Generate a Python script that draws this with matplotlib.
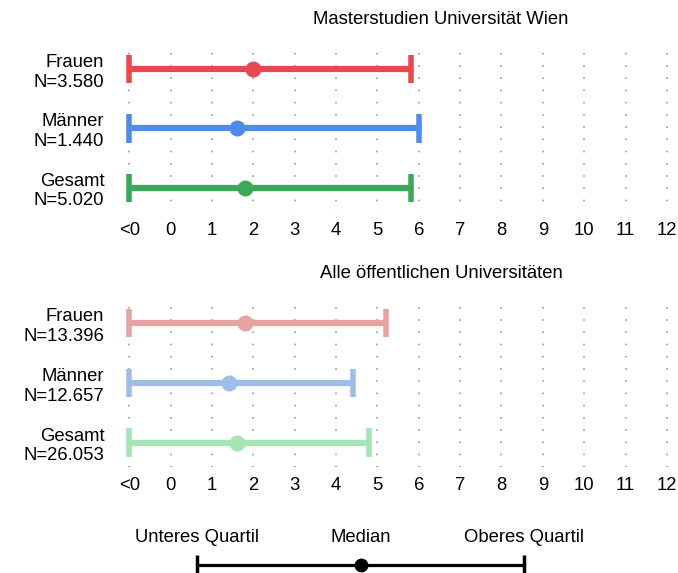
import matplotlib.pyplot as plt

# Daten: Quartile und Median (Studiendauer), "<0" = -1
gruppen = ["Frauen", "Männer", "Gesamt"]
n_wien = ["3.580", "1.440", "5.020"]
n_alle = ["13.396", "12.657", "26.053"]

q1_wien = [-1, -1, -1]
med_wien = [2.0, 1.6, 1.8]
q3_wien = [5.8, 6.0, 5.8]

q1_alle = [-1, -1, -1]
med_alle = [1.8, 1.4, 1.6]
q3_alle = [5.2, 4.4, 4.8]

ticks = list(range(-1, 13))
tick_labels = ["<0"] + [str(t) for t in range(0, 13)]

farben_wien = ["#e8494f", "#4f8ce9", "#3aaa5a"]
farben_alle = ["#e5a3a3", "#9fbde5", "#a4e4b5"]

plt.rcParams["font.family"] = "Liberation Sans"
fs = 13.3

W, H = 678, 573
fig = plt.figure(figsize=(W / 100, H / 100), dpi=100)


def panel(top_px, bottom_px, q1, med, q3, n, farben, titel):
    ax = fig.add_axes([121 / W, (H - bottom_px) / H, 548 / W, (bottom_px - top_px) / H])
    ax.set_xlim(-1.2, 12.05)
    ax.set_ylim(2.44, -0.32)
    ax.vlines(ticks, -0.27, 2.4, colors="#8c8c8c", linestyles=(0, (1, 7)), linewidth=1.1, zorder=1)
    for i in range(len(gruppen)):
        ax.hlines(i, q1[i], q3[i], color=farben[i], linewidth=4.5, zorder=2)
        ax.vlines([q1[i], q3[i]], i - 0.24, i + 0.24, color=farben[i], linewidth=4, zorder=2)
        ax.plot(med[i], i, "o", color=farben[i], markersize=10.5, zorder=3)
    ax.set_xticks(ticks)
    ax.set_xticklabels(tick_labels, fontsize=fs)
    ax.set_yticks(range(len(gruppen)))
    ax.set_yticklabels([g + "\nN=" + x for g, x in zip(gruppen, n)], fontsize=fs, linespacing=1.2)
    ax.tick_params(length=0, pad=6)
    ax.tick_params(axis="y", pad=12)
    for s in ax.spines.values():
        s.set_visible(False)
    fig.text(441 / W, 1 - (top_px - 30) / H, titel, ha="center", va="center", fontsize=fs)
    return ax


panel(50, 214, q1_wien, med_wien, q3_wien, n_wien, farben_wien, "Masterstudien Universität Wien")
panel(304, 469, q1_alle, med_alle, q3_alle, n_alle, farben_alle, "Alle öffentlichen Universitäten")

# Legende
leg_pos = [0, 1, 2]
leg_text = ["Unteres Quartil", "Median", "Oberes Quartil"]
lax = fig.add_axes([115 / W, 0, 491 / W, 55 / H])
lax.set_xlim(-0.5, 2.5)
lax.set_ylim(0, 55)
lax.axis("off")
lax.hlines(8, leg_pos[0], leg_pos[2], color="black", linewidth=2.3)
lax.vlines([leg_pos[0], leg_pos[2]], -5, 18, color="black", linewidth=2.5)
lax.plot(leg_pos[1], 8, "o", color="black", markersize=9)
for x, t in zip(leg_pos, leg_text):
    lax.text(x, 36, t, ha="center", va="center", fontsize=fs)

fig.savefig("out.png", dpi=100)
